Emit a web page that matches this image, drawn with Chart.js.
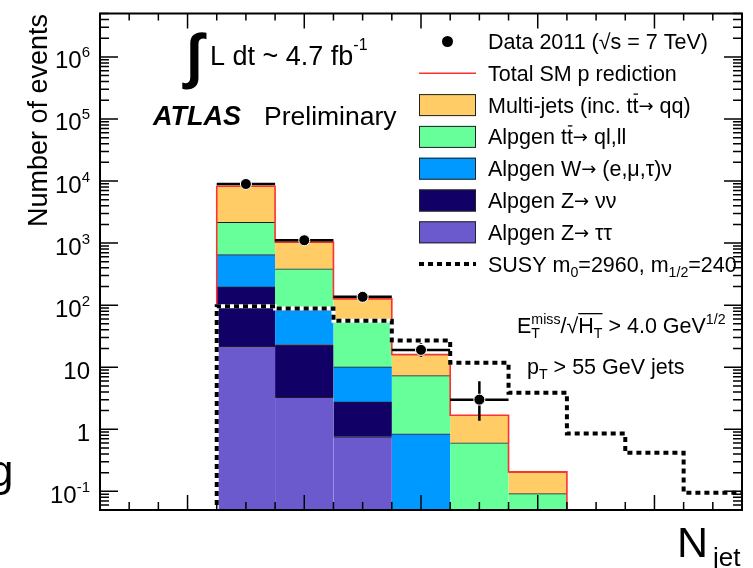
<!DOCTYPE html>
<html>
<head>
<meta charset="utf-8">
<script src="https://cdn.jsdelivr.net/npm/chart.js@4.4.1/dist/chart.umd.min.js"></script>
<style>
  html, body { margin: 0; padding: 0; background: #ffffff; }
  canvas { display: block; }
</style>
</head>
<body>
<canvas id="njet" width="753" height="568"></canvas>
<script>
// Jet multiplicity bins (jets with pT > 55 GeV)
const nJetBins = ['3', '4', '5', '6', '7', '8', '9', '10', '11', '12', '13'];

// Standard Model expectation per bin, events (stacked bottom to top)
const zTauTau  = [0, 0, 21.7, 3.28, 0.754, 0, 0, 0, 0, 0, 0];
const zNuNu    = [0, 0, 175, 19.9, 2.0, 0, 0, 0, 0, 0, 0];
const wLepNu   = [0, 0, 456, 61.7, 7.34, 0.843, 0, 0, 0, 0, 0];
const ttbarLep = [0, 0, 1513, 299, 44.3, 6.49, 0.604, 0.092, 0, 0, 0];
const multiJet = [0, 0, 6060, 656, 72.6, 8.67, 1.08, 0.114, 0, 0, 0];

// Observed events and their asymmetric uncertainties
const data2011   = [0, 0, 8950, 1110, 136, 19, 3, 0, 0, 0, 0];
const dataErrLow = [0, 0, 95, 33, 11.2, 4.3, 1.63, 0, 0, 0, 0];
const dataErrUp  = [0, 0, 95, 34, 12.2, 5.4, 2.92, 0, 0, 0, 0];

// SUSY benchmark point
const susySignal = [0, 0, 95.9, 88.1, 55.8, 26.9, 11.75, 3.86, 0.853, 0.417, 0.0945];

// Vertical axis decades that carry a label
const yDecades = [-1, 0, 1, 2, 3, 4, 5, 6];

const FONT = '"Liberation Sans", Arial, Helvetica, sans-serif';
const font = (size, style, fam) => `${style || ''} ${size}px ${fam ? '"' + fam + '", ' : ''}${FONT}`;

const asBars = arr => arr.map(v => (v > 0 ? v : null));
const totalSM = nJetBins.map((_, i) =>
  zTauTau[i] + zNuNu[i] + wLepNu[i] + ttbarLep[i] + multiJet[i]);

const ARROW = { t: '\u2192', fam: 'DejaVu Sans', size: 18 };

// Draw a line of text with sub/superscripts and overlines; returns width
function richText(ctx, x, y, parts, size, measureOnly) {
  let cx = x, ovX = x;
  const small = size * 0.66;
  for (const raw of parts) {
    const p = typeof raw === 'string' ? { t: raw } : raw;
    if (p.ovStart) { ovX = cx; continue; }
    if (p.ovEnd) {
      if (!measureOnly) {
        ctx.beginPath(); ctx.lineWidth = 1.3;
        ctx.moveTo(ovX, y - size * 0.9); ctx.lineTo(cx, y - size * 0.9); ctx.stroke();
      }
      continue;
    }
    if (p.t) {
      ctx.font = font(p.size || size, p.style, p.fam);
      const w = ctx.measureText(p.t).width;
      if (!measureOnly) {
        ctx.fillText(p.t, cx, y - (p.fam ? 1 : 0));
        if (p.bar) {
          ctx.beginPath(); ctx.lineWidth = 1.3;
          ctx.moveTo(cx + 1, y - size * 0.86); ctx.lineTo(cx + w - 0.5, y - size * 0.86); ctx.stroke();
        }
      }
      cx += w;
    }
    if (p.sub != null || p.sup != null) {
      const ss = p.ss || small;
      ctx.font = font(ss);
      let w = 0;
      if (p.sub != null) {
        w = Math.max(w, ctx.measureText(p.sub).width);
        if (!measureOnly) ctx.fillText(p.sub, cx, y + size * 0.24);
      }
      if (p.sup != null) {
        w = Math.max(w, ctx.measureText(p.sup).width);
        if (!measureOnly) ctx.fillText(p.sup, cx, y - (p.supDy != null ? p.supDy : size * 0.44));
      }
      cx += w;
    }
  }
  return cx - x;
}

// Fit a single glyph into a box
function glyphInBox(ctx, ch, x0, y0, w, h, style) {
  ctx.save();
  ctx.font = font(100, style);
  const m = ctx.measureText(ch);
  const gw = m.actualBoundingBoxLeft + m.actualBoundingBoxRight;
  const gh = m.actualBoundingBoxAscent + m.actualBoundingBoxDescent;
  ctx.translate(x0, y0);
  ctx.scale(w / gw, h / gh);
  ctx.textAlign = 'left';
  ctx.fillText(ch, m.actualBoundingBoxLeft, m.actualBoundingBoxAscent);
  ctx.restore();
}

function binGeom(chart, i) {
  const xs = chart.scales.x;
  const c = xs.getPixelForValue(i);
  const w = xs.getPixelForValue(1) - xs.getPixelForValue(0);
  return { l: c - w / 2, r: c + w / 2, c, w };
}
function yPix(chart, v) {
  return v > 0 ? chart.scales.y.getPixelForValue(v) : chart.chartArea.bottom + 4;
}

// Histogram outline as a step path
function stepPath(ctx, chart, values) {
  const n = values.length;
  const first = values.findIndex(v => v > 0);
  let last = n - 1;
  while (last >= 0 && !(values[last] > 0)) last--;
  if (first < 0) return;
  ctx.beginPath();
  const g0 = binGeom(chart, first);
  ctx.moveTo(g0.l, yPix(chart, 0));
  for (let i = first; i <= last; i++) {
    const g = binGeom(chart, i);
    const y = yPix(chart, values[i]);
    ctx.lineTo(g.l, y);
    ctx.lineTo(g.r, y);
  }
  if (last < n - 1) {
    ctx.lineTo(binGeom(chart, last).r, yPix(chart, 0));
  }
}

const DATA_INDEX = 5;

const decorations = {
  id: 'decorations',
  beforeDatasetDraw(chart, args) {
    if (args.index !== DATA_INDEX) return;
    const ctx = chart.ctx;
    const a = chart.chartArea;
    ctx.save();
    ctx.beginPath();
    ctx.rect(a.left, a.top, a.right - a.left, a.bottom - a.top);
    ctx.clip();

    // total SM prediction outline
    stepPath(ctx, chart, totalSM);
    ctx.strokeStyle = '#ff3030';
    ctx.lineWidth = 1.6;
    ctx.setLineDash([]);
    ctx.stroke();

    // SUSY benchmark, dotted
    stepPath(ctx, chart, susySignal);
    ctx.strokeStyle = '#ffffff';
    ctx.lineWidth = 4;
    ctx.lineCap = 'butt';
    ctx.stroke();
    ctx.strokeStyle = '#000000';
    ctx.setLineDash([5, 4]);
    ctx.stroke();
    ctx.setLineDash([]);

    // data: bin-width bars and vertical uncertainties
    ctx.strokeStyle = '#000000';
    ctx.lineWidth = 2.5;
    data2011.forEach((d, i) => {
      if (!(d > 0)) return;
      const g = binGeom(chart, i);
      const y = yPix(chart, d);
      ctx.beginPath();
      ctx.moveTo(g.l, y); ctx.lineTo(g.r, y);
      ctx.moveTo(g.c, yPix(chart, d - dataErrLow[i]));
      ctx.lineTo(g.c, yPix(chart, d + dataErrUp[i]));
      ctx.stroke();
    });
    ctx.restore();
  },

  afterDraw(chart) {
    const ctx = chart.ctx;
    const a = chart.chartArea;
    const ys = chart.scales.y;
    ctx.save();
    ctx.fillStyle = '#000';
    ctx.strokeStyle = '#000';

    // frame
    ctx.lineWidth = 2;
    ctx.strokeRect(a.left, a.top, a.right - a.left, a.bottom - a.top);

    // y ticks, logarithmic, on both sides
    ctx.lineWidth = 1.5;
    ctx.beginPath();
    for (let d = -2; d <= 7; d++) {
      for (let k = 1; k <= 9; k++) {
        const v = k * Math.pow(10, d);
        if (v < ys.min || v > ys.max) continue;
        const y = ys.getPixelForValue(v);
        const len = k === 1 ? 18 : 9;
        ctx.moveTo(a.left, y); ctx.lineTo(a.left + len, y);
        ctx.moveTo(a.right, y); ctx.lineTo(a.right - len, y);
      }
    }
    // x ticks at bin centres and edges, top and bottom
    nJetBins.forEach((lab, i) => {
      const g = binGeom(chart, i);
      const major = Number(lab) % 2 === 0;
      const positions = [[g.c, major]];
      if (i > 0) positions.push([g.l, false]);
      positions.forEach(([x, mj]) => {
        ctx.moveTo(x, a.bottom); ctx.lineTo(x, a.bottom - (mj ? 15 : 8));
        ctx.moveTo(x, a.top); ctx.lineTo(x, a.top + (mj ? 15 : 7));
      });
    });
    ctx.stroke();

    // y tick labels
    ctx.textAlign = 'left';
    ctx.textBaseline = 'alphabetic';
    yDecades.forEach(d => {
      const y = ys.getPixelForValue(Math.pow(10, d));
      let parts;
      if (d === 0) parts = ['1'];
      else if (d === 1) parts = ['10'];
      else parts = ['10', { sup: String(d), ss: 15, supDy: 11 }];
      const w = richText(ctx, 0, 0, parts, 24, true);
      richText(ctx, 90 - w, y + 11.5, parts, 24);
    });

    // y axis title
    ctx.save();
    ctx.translate(46.5, a.top + 0.5);
    ctx.rotate(-Math.PI / 2);
    ctx.textAlign = 'right';
    ctx.font = font(27);
    ctx.fillText('Number of events', 0, 0);
    ctx.restore();

    // x axis title
    ctx.textAlign = 'left';
    ctx.font = font(43);
    ctx.fillText('N', 677, 557);
    ctx.font = font(26);
    ctx.fillText('jet', 713, 566);
    ctx.font = font(44);
    ctx.fillText('g', -11, 486);

    // luminosity
    glyphInBox(ctx, '\u222B', 182, 32, 25, 58, 'bold');
    richText(ctx, 210, 65, ['L dt ~ 4.7 fb', { sup: '-1', ss: 16, supDy: 15 }], 27);

    // experiment label
    ctx.font = font(27, 'italic bold');
    ctx.fillText('ATLAS', 153, 125);
    ctx.font = font(26.5);
    ctx.fillText('Preliminary', 264, 125);

    // selection
    richText(ctx, 517, 333, [
      'E', { sub: 'T', sup: 'miss' }, '/', '\u221A', { ovStart: true }, 'H', { sub: 'T' }, { ovEnd: true },
      ' > 4.0 GeV', { sup: '1/2' }
    ], 21.5);
    richText(ctx, 527, 374, ['p', { sub: 'T' }, ' > 55 GeV jets'], 21.5);

    // legend
    const lx = 419, lw = 57, tx = 488, fs = 21.5;
    const rowY = i => 41.5 + 31.8 * i;
    const entries = [
      { kind: 'data', text: ['Data 2011 (\u221As = 7 TeV)'] },
      { kind: 'line', text: ['Total SM p rediction'] },
      { kind: 'box', color: '#ffcc66', text: ['Multi-jets (inc. t', { t: 't', bar: true }, ARROW, ' qq)'] },
      { kind: 'box', color: '#66ff99', text: ['Alpgen t', { t: 't', bar: true }, ARROW, ' ql,ll'] },
      { kind: 'box', color: '#0099ff', text: ['Alpgen W', ARROW, ' (e,\u03BC,\u03C4)\u03BD'] },
      { kind: 'box', color: '#110066', text: ['Alpgen Z', ARROW, ' \u03BD\u03BD'] },
      { kind: 'box', color: '#6b5acd', text: ['Alpgen Z', ARROW, ' \u03C4\u03C4'] },
      { kind: 'dots', text: ['SUSY m', { sub: '0' }, '=2960, m', { sub: '1/2' }, '=240'] }
    ];
    entries.forEach((e, i) => {
      const y = rowY(i);
      if (e.kind === 'data') {
        ctx.beginPath(); ctx.arc(lx + lw / 2, y, 5.5, 0, Math.PI * 2); ctx.fill();
      } else if (e.kind === 'line') {
        ctx.strokeStyle = '#ff3030'; ctx.lineWidth = 1.6;
        ctx.beginPath(); ctx.moveTo(lx, y); ctx.lineTo(lx + lw, y); ctx.stroke();
      } else if (e.kind === 'box') {
        ctx.fillStyle = e.color;
        ctx.fillRect(lx, y - 11, lw, 22);
        ctx.strokeStyle = '#222'; ctx.lineWidth = 1;
        ctx.strokeRect(lx + 0.5, y - 10.5, lw - 1, 21);
      } else if (e.kind === 'dots') {
        ctx.strokeStyle = '#000'; ctx.lineWidth = 4; ctx.setLineDash([5, 4]);
        ctx.beginPath(); ctx.moveTo(lx, y); ctx.lineTo(lx + lw, y); ctx.stroke();
        ctx.setLineDash([]);
      }
      ctx.fillStyle = '#000'; ctx.strokeStyle = '#000';
      richText(ctx, tx, y + 7.5, e.text, fs);
    });
    ctx.restore();
  }
};

const barStyle = color => ({
  backgroundColor: color,
  borderColor: '#1c1c1c',
  borderWidth: { top: 1, right: 0, bottom: 0, left: 0 },
  borderSkipped: false,
  barPercentage: 1.0,
  categoryPercentage: 1.0,
  order: 1
});

new Chart(document.getElementById('njet'), {
  type: 'bar',
  data: {
    labels: nJetBins,
    datasets: [
      { label: 'Alpgen Z\u2192\u03C4\u03C4', data: asBars(zTauTau), ...barStyle('#6b5acd') },
      { label: 'Alpgen Z\u2192\u03BD\u03BD', data: asBars(zNuNu), ...barStyle('#110066') },
      { label: 'Alpgen W\u2192(e,\u03BC,\u03C4)\u03BD', data: asBars(wLepNu), ...barStyle('#0099ff') },
      { label: 'Alpgen tt\u0304\u2192ql,ll', data: asBars(ttbarLep), ...barStyle('#66ff99') },
      { label: 'Multi-jets', data: asBars(multiJet), ...barStyle('#ffcc66') },
      {
        type: 'line',
        label: 'Data 2011',
        data: data2011.map(v => (v > 0 ? v : null)),
        showLine: false,
        pointRadius: 5.5,
        pointBackgroundColor: '#000000',
        pointBorderColor: '#ffffff',
        pointBorderWidth: 1,
        order: 0
      }
    ]
  },
  options: {
    responsive: false,
    animation: false,
    devicePixelRatio: 1,
    layout: { padding: { left: 100, top: 13.5, right: 11, bottom: 58 } },
    plugins: { legend: { display: false }, tooltip: { enabled: false } },
    scales: {
      x: { type: 'category', offset: true, stacked: true, display: false },
      y: { type: 'logarithmic', min: 0.05, max: 5e6, stacked: true, display: false, bounds: 'data' }
    }
  },
  plugins: [decorations]
});
</script>
</body>
</html>
